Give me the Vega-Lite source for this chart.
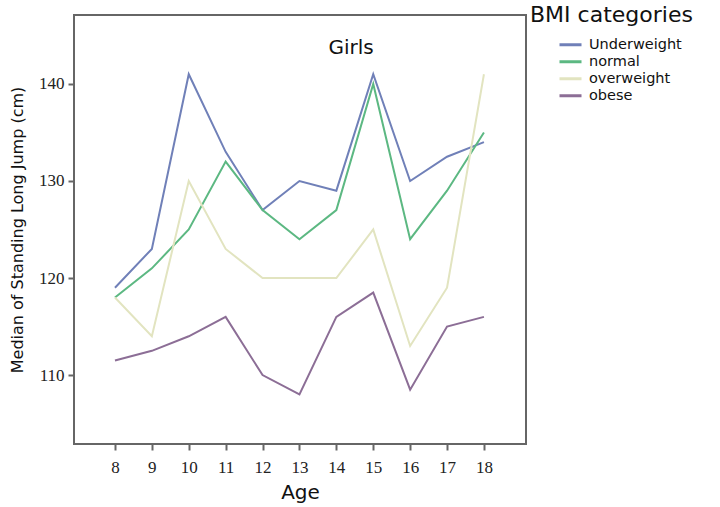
{
  "$schema": "https://vega.github.io/schema/vega-lite/v6.json",
  "width": 452,
  "height": 429,
  "autosize": {"type": "none"},
  "padding": {"left": 74, "top": 15, "right": 194, "bottom": 63},
  "background": "white",
  "title": {
    "text": "BMI categories",
    "anchor": "start",
    "frame": "group",
    "dx": 456,
    "dy": 29,
    "offset": 0,
    "baseline": "alphabetic",
    "font": "DejaVu Sans",
    "fontSize": 22,
    "fontWeight": "normal",
    "color": "#111"
  },
  "datasets": {
    "jump": [
      {"age": 8, "bmi": "Underweight", "median": 119},
      {"age": 9, "bmi": "Underweight", "median": 123},
      {"age": 10, "bmi": "Underweight", "median": 141},
      {"age": 11, "bmi": "Underweight", "median": 133},
      {"age": 12, "bmi": "Underweight", "median": 127},
      {"age": 13, "bmi": "Underweight", "median": 130},
      {"age": 14, "bmi": "Underweight", "median": 129},
      {"age": 15, "bmi": "Underweight", "median": 141},
      {"age": 16, "bmi": "Underweight", "median": 130},
      {"age": 17, "bmi": "Underweight", "median": 132.5},
      {"age": 18, "bmi": "Underweight", "median": 134},
      {"age": 8, "bmi": "normal", "median": 118},
      {"age": 9, "bmi": "normal", "median": 121},
      {"age": 10, "bmi": "normal", "median": 125},
      {"age": 11, "bmi": "normal", "median": 132},
      {"age": 12, "bmi": "normal", "median": 127},
      {"age": 13, "bmi": "normal", "median": 124},
      {"age": 14, "bmi": "normal", "median": 127},
      {"age": 15, "bmi": "normal", "median": 140},
      {"age": 16, "bmi": "normal", "median": 124},
      {"age": 17, "bmi": "normal", "median": 129},
      {"age": 18, "bmi": "normal", "median": 135},
      {"age": 8, "bmi": "overweight", "median": 118},
      {"age": 9, "bmi": "overweight", "median": 114},
      {"age": 10, "bmi": "overweight", "median": 130},
      {"age": 11, "bmi": "overweight", "median": 123},
      {"age": 12, "bmi": "overweight", "median": 120},
      {"age": 13, "bmi": "overweight", "median": 120},
      {"age": 14, "bmi": "overweight", "median": 120},
      {"age": 15, "bmi": "overweight", "median": 125},
      {"age": 16, "bmi": "overweight", "median": 113},
      {"age": 17, "bmi": "overweight", "median": 119},
      {"age": 18, "bmi": "overweight", "median": 141},
      {"age": 8, "bmi": "obese", "median": 111.5},
      {"age": 9, "bmi": "obese", "median": 112.5},
      {"age": 10, "bmi": "obese", "median": 114},
      {"age": 11, "bmi": "obese", "median": 116},
      {"age": 12, "bmi": "obese", "median": 110},
      {"age": 13, "bmi": "obese", "median": 108},
      {"age": 14, "bmi": "obese", "median": 116},
      {"age": 15, "bmi": "obese", "median": 118.5},
      {"age": 16, "bmi": "obese", "median": 108.5},
      {"age": 17, "bmi": "obese", "median": 115},
      {"age": 18, "bmi": "obese", "median": 116}
    ],
    "note": [{"age": 14.4, "median": 143.7, "label": "Girls"}]
  },
  "encoding": {
    "x": {
      "field": "age",
      "type": "quantitative",
      "title": "Age",
      "scale": {"domain": [6.89, 19.14], "nice": false, "zero": false},
      "axis": {"values": [8, 9, 10, 11, 12, 13, 14, 15, 16, 17, 18]}
    },
    "y": {
      "field": "median",
      "type": "quantitative",
      "title": "Median of Standing Long Jump (cm)",
      "scale": {"domain": [102.9, 147.1], "nice": false, "zero": false},
      "axis": {"values": [110, 120, 130, 140]}
    }
  },
  "layer": [
    {
      "data": {"name": "jump"},
      "mark": {"type": "line", "strokeWidth": 2},
      "encoding": {
        "color": {
          "field": "bmi",
          "type": "nominal",
          "scale": {
            "domain": ["Underweight", "normal", "overweight", "obese"],
            "range": ["#7080b8", "#5cb882", "#e2e4c0", "#8c6e96"]
          },
          "legend": {
            "title": null,
            "orient": "none",
            "legendX": 484,
            "legendY": 22,
            "symbolType": "stroke",
            "symbolSize": 484,
            "symbolStrokeWidth": 3,
            "clipHeight": 15.5,
            "rowPadding": 0,
            "labelOffset": 6,
            "labelFont": "DejaVu Sans",
            "labelFontSize": 14.5,
            "labelColor": "#111"
          }
        }
      }
    },
    {
      "data": {"name": "note"},
      "mark": {"type": "text", "font": "DejaVu Sans", "fontSize": 20, "color": "#111"},
      "encoding": {"text": {"field": "label"}}
    }
  ],
  "config": {
    "view": {"stroke": "#666", "strokeWidth": 2},
    "axis": {
      "grid": false,
      "domain": false,
      "ticks": true,
      "tickColor": "#666",
      "tickWidth": 2,
      "tickSize": 6,
      "labelFont": "Liberation Serif",
      "labelFontSize": 17,
      "labelColor": "#222",
      "titleFont": "DejaVu Sans",
      "titleFontWeight": "normal",
      "titleColor": "#111"
    },
    "axisX": {"labelPadding": 9, "titleFontSize": 20, "titlePadding": 7},
    "axisY": {"labelPadding": 4, "titleFontSize": 16, "titlePadding": 13}
  }
}
